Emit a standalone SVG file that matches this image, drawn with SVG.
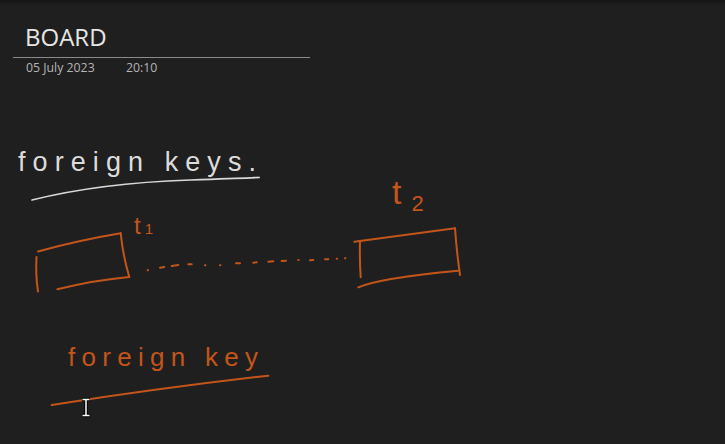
<svg xmlns="http://www.w3.org/2000/svg" width="725" height="444" viewBox="0 0 725 444">
<defs>
<linearGradient id="topbar" x1="0" y1="0" x2="0" y2="1">
<stop offset="0" stop-color="#151515"/>
<stop offset="1" stop-color="#1f1f1f"/>
</linearGradient>
<style>
.hdr{font-family:"Open Sans","Noto Sans","Liberation Sans",sans-serif}
.ink{fill:none;stroke-linecap:round;stroke-linejoin:round}
.or{stroke:#c4551a;stroke-width:2}
.wh{stroke:#d8d8d8;stroke-width:1.6}
.hand{font-family:"Liberation Sans","DejaVu Sans",sans-serif;font-weight:normal}
</style>
</defs>
<rect width="725" height="444" fill="#1f1f1f"/>
<rect width="725" height="6" fill="url(#topbar)"/>

<g id="header">
<text class="hdr" x="25" y="46" font-size="24" fill="#e6e6e6">BOARD</text>
<line x1="13" y1="57.5" x2="310" y2="57.5" stroke="#8a8a8a" stroke-width="1"/>
<text class="hdr" x="26" y="72" font-size="12.3" fill="#b5b5b5">05 July 2023</text>
<text class="hdr" x="126" y="72" font-size="12.3" fill="#b5b5b5">20:10</text>
</g>

<g id="title-foreign-keys">
<text class="hand" x="18" y="171" font-size="27" fill="#dcdcdc" textLength="238" lengthAdjust="spacing">foreign keys.</text>
<path class="ink wh" d="M32 200 Q100 183 190 180 T253 177.5"/>
</g>

<g id="t1">
<path class="ink or" d="M36.5 257 Q35.5 275 38 291.5"/>
<path class="ink or" d="M38 251.5 Q80 240 120.7 233.3"/>
<path class="ink or" d="M120.7 233.3 Q123 256 129.3 277"/>
<path class="ink or" d="M57.3 289.3 Q95 280 129.3 277"/>
<text class="hand" x="134" y="234" font-size="24" fill="#c4551a">t<tspan font-size="15" dx="4">1</tspan></text>
</g>

<g id="t2">
<path class="ink or" d="M360 241.7 Q359.5 260 360.7 277.3"/>
<path class="ink or" d="M354.3 241.7 Q405 235 455 228.3"/>
<path class="ink or" d="M455 228.3 Q456.5 250 460 275"/>
<path class="ink or" d="M358.3 287.3 Q380 278 458.3 270.7"/>
<text class="hand" x="392" y="204" font-size="34" fill="#c4551a">t<tspan font-size="22" dx="10" dy="7">2</tspan></text>
</g>

<g id="connectors">
<path class="ink or" d="M147.7 270.3 l0.4 -0.1 M160 267.7 L164.3 267 M171.7 266 L178.3 265 M188.3 264.3 L191.7 264.3 M205 265.3 l0.4 0 M220 265.3 l0.4 0 M236 263.3 L240 263.3 M253.3 262.7 L256.7 262.3 M268.3 261.7 L273.3 261.3 M281.7 261 L286 260.7 M298.3 260 l0.4 0 M310 260.3 L313.3 260 M325 259.3 L328.3 259.3 M336.7 258.7 l0.4 0 M345 258.3 l0.4 0"/>
</g>

<g id="foreign-key">
<text class="hand" x="68" y="366" font-size="26" fill="#c4551a" textLength="190" lengthAdjust="spacing">foreign key</text>
<path class="ink or" d="M51.7 405 Q160 388 268.3 375.7"/>
</g>

<g id="cursor">
<path d="M82 399.5 H90 M86 399.5 V415.5 M82 415.5 H90" stroke="#000" stroke-width="3.5" fill="none"/>
<path d="M82.5 399.5 H89.5 M86 399.5 V415.5 M82.5 415.5 H89.5" stroke="#fff" stroke-width="1.5" fill="none"/>
</g>
</svg>
